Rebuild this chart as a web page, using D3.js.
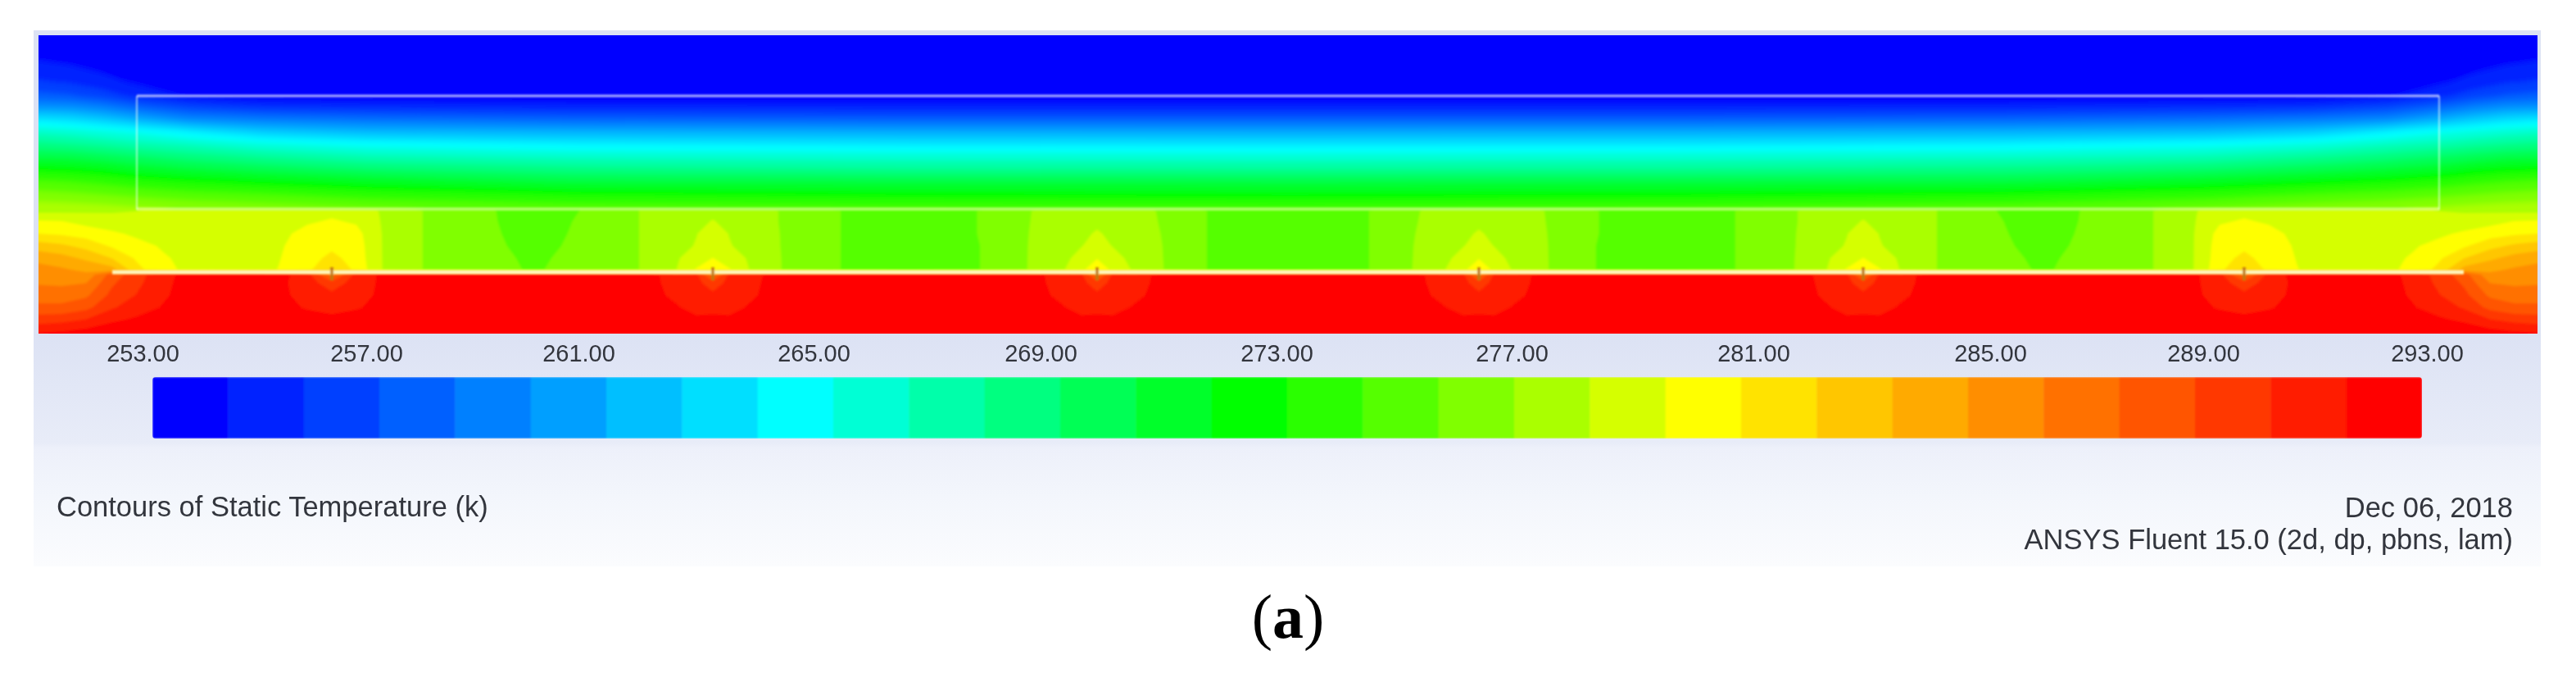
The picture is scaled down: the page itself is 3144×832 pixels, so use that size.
<!DOCTYPE html>
<html>
<head>
<meta charset="utf-8">
<title>Contours of Static Temperature</title>
<script src="https://cdn.jsdelivr.net/npm/d3@7"></script>
<style>
  html, body { margin: 0; background: #fff; }
  svg { display: block; }
  text { font-family: "Liberation Sans", Arial, sans-serif; fill: #33363d; }
</style>
</head>
<body>
<svg width="3144" height="832"></svg>
<script>
// colour bar
const legendTicks = [253, 257, 261, 265, 269, 273, 277, 281, 285, 289, 293];
const bandCount = 30;
const bandIndex = d3.range(bandCount);
// swatch where each pure colour sits on the bar
const paletteBands = [0, 8, 14, 20, 29];
const paletteColors = ['#0000ff', '#00ffff', '#00ff00', '#ffff00', '#ff0000'];
const titleLeft = 'Contours of Static Temperature (k)';
const dateText = 'Dec 06, 2018';
const solverText = 'ANSYS Fluent 15.0 (2d, dp, pbns, lam)';

// heaters on the plate: distance from the centre line
const heaterStops = [-1167, -702, -233, 233, 702, 1167];

// air above the box bottom (temperature in K).
// one list per column, left wall to centre line, the right half is the mirror
const upperX = [1525, 1487, 1447, 1405, 1342, 1252, 1122, 872, 472, 0];
const upperY = [0, 32, 57, 74, 87, 102, 117, 132, 147, 162, 177, 192, 212];
const upperColumns = [
  [253, 254.4, 255.8, 257.5, 259.8, 263.2, 265.9, 268, 270.1, 272.3, 274.3, 275.9, 277.9],
  [253, 254.1, 255.5, 257.2, 259.6, 262.8, 265.6, 267.7, 270, 272.1, 274.1, 275.7, 277.8],
  [253, 253.7, 254.8, 256.4, 258.9, 262, 265.1, 267.3, 269.5, 271.7, 273.7, 275.4, 277.6],
  [253, 253.2, 254.1, 255.3, 257.7, 260.9, 264.6, 266.7, 269, 271, 273.1, 275, 277.3],
  [253, 253, 253.5, 254.1, 256.4, 259.3, 263.5, 266.1, 268.3, 270.4, 272.6, 274.5, 276.9],
  [253, 253, 253, 253.3, 255.6, 258.7, 262, 265.1, 267.5, 269.7, 272, 274.1, 276.5],
  [253, 253, 253, 253.2, 255.3, 258.2, 261.2, 264.3, 266.5, 268.8, 271.2, 273.3, 275.9],
  [253, 253, 253, 253.1, 255, 257.7, 260.9, 263.6, 265.9, 268, 270.2, 272.5, 275.1],
  [253, 253, 253, 253, 254.9, 257.5, 260.7, 263.3, 265.6, 267.6, 270.1, 272.1, 274.7],
  [253, 253, 253, 253, 254.9, 257.5, 260.6, 263.2, 265.5, 267.5, 270, 271.9, 274.5]
];

// gap under the box and the plate below it
const lowerX = [1525, 1497, 1467, 1435, 1405, 1372, 1322, 1272, 1232, 1197, 1167, 1137, 1102, 1052, 982, 922, 862, 792,
  747, 722, 702, 682, 657, 612, 542, 467, 392, 322, 277, 252, 233, 214, 187, 142, 92, 0];
const lowerY = [214, 227, 242, 257, 272, 286, 292, 302, 317, 332, 347, 364];
const lowerColumns = [
  [278, 279.8, 281, 283, 284.6, 285.5, 285.8, 286.2, 287, 288, 289.7, 291.8],
  [278, 279.7, 280.8, 282.6, 284.2, 285.2, 285.6, 286.1, 287, 288, 289.9, 292],
  [278.1, 279.2, 280.4, 281.9, 283.4, 284.7, 285.3, 286.3, 287.4, 288.6, 290.4, 292.4],
  [278.2, 278.8, 279.9, 280.8, 282.3, 284.2, 288.3, 288.8, 289.4, 290.2, 291.4, 292.8],
  [278.3, 278.8, 279.4, 280.1, 280.8, 281.4, 289.8, 290, 290.4, 291, 291.9, 293],
  [278.6, 278.8, 279.1, 279.5, 279.8, 280, 291.3, 291.4, 291.5, 291.8, 292.5, 293],
  [278.8, 278.8, 278.8, 278.9, 279, 279, 292.6, 292.6, 292.7, 292.8, 292.9, 293],
  [278.9, 278.9, 278.9, 278.9, 279, 279.1, 292.8, 292.8, 292.8, 292.8, 293, 293],
  [279, 279.1, 279.3, 279.5, 279.6, 279.7, 292.2, 292, 292, 292.3, 292.8, 293],
  [279.1, 279.5, 280.1, 280.3, 280.4, 280.6, 290.9, 291, 291.2, 291.5, 292.4, 293],
  [279.3, 279.8, 280.3, 280.7, 281.4, 282.6, 287, 289.5, 290.7, 291, 292.2, 293],
  [279.1, 279.5, 280.1, 280.3, 280.4, 280.6, 290.9, 291, 291.2, 291.5, 292.4, 293],
  [278.1, 278.1, 278.1, 278.1, 278.1, 278.1, 292, 292, 292, 292.3, 292.8, 293],
  [276.9, 276.9, 276.9, 276.9, 276.9, 276.9, 292.8, 292.8, 292.8, 292.8, 293, 293],
  [275.9, 275.9, 276, 276.1, 276.2, 276.3, 292.8, 292.8, 292.8, 292.8, 293, 293],
  [275, 275.1, 275.1, 275.2, 275.4, 275.5, 292.8, 292.8, 292.8, 292.8, 293, 293],
  [275.7, 275.8, 275.9, 276, 276.1, 276.2, 292.8, 292.8, 292.8, 292.8, 293, 293],
  [277, 277, 277, 277, 277, 277, 292.5, 292.5, 292.6, 292.7, 293, 293],
  [277.6, 277.7, 277.8, 278, 278.2, 278.3, 291, 291.1, 291.3, 291.85, 292.6, 293],
  [277.9, 278, 278.3, 278.4, 278.9, 279.8, 290.6, 290.8, 291, 291.1, 292, 293],
  [278, 278.4, 278.8, 279, 279.7, 281, 287, 289.5, 290.7, 291, 292.2, 293],
  [277.9, 278, 278.3, 278.4, 278.9, 279.8, 290.6, 290.8, 291, 291.1, 292, 293],
  [277.7, 277.7, 277.9, 278, 278.2, 278.3, 291.2, 291.3, 291.4, 291.85, 292.6, 293],
  [276.8, 276.8, 276.8, 276.8, 276.8, 276.8, 292.5, 292.5, 292.6, 292.7, 293, 293],
  [275.6, 275.6, 275.6, 275.6, 275.6, 275.6, 292.8, 292.8, 292.8, 292.8, 293, 293],
  [275, 275, 275, 275, 275, 275, 292.8, 292.8, 292.8, 292.8, 293, 293],
  [275.4, 275.4, 275.4, 275.3, 275.3, 275.3, 292.8, 292.8, 292.8, 292.8, 293, 293],
  [276.9, 276.9, 276.9, 276.9, 276.9, 276.9, 292.5, 292.5, 292.6, 292.7, 293, 293],
  [277.4, 277.5, 277.7, 277.9, 278, 278.1, 291, 291.1, 291.3, 291.85, 292.6, 293],
  [277.7, 277.8, 278, 278.3, 278.7, 279.4, 290.6, 290.8, 291, 291.1, 292, 293],
  [277.9, 278, 278.5, 278.7, 279.6, 280.6, 287, 289.5, 290.7, 291, 292.2, 293],
  [277.7, 277.8, 278, 278.3, 278.7, 279.4, 290.6, 290.8, 291, 291.1, 292, 293],
  [277.4, 277.5, 277.7, 277.9, 278, 278.1, 291, 291.1, 291.3, 291.85, 292.6, 293],
  [276.7, 276.7, 276.7, 276.7, 276.7, 276.7, 292.5, 292.5, 292.6, 292.7, 293, 293],
  [275.5, 275.5, 275.5, 275.5, 275.5, 275.5, 292.8, 292.8, 292.8, 292.8, 293, 293],
  [275, 275, 275, 275, 275, 275, 292.8, 292.8, 292.8, 292.8, 293, 293]
];

// layout
const plot = { left: 47, right: 3097, top: 43, bottom: 407 };
const bar = { left: 186, right: 2956, top: 460, bottom: 535 };
// the labels of the picture are not evenly spaced along the bar
const legendTickPx = [174, 447, 706, 993, 1270, 1558, 1845, 2140, 2429, 2689, 2962];

const svg = d3.select('svg');
const defs = svg.append('defs');

const panelGradient = defs.append('linearGradient')
  .attr('id', 'panelFill')
  .attr('x1', 0).attr('x2', 0).attr('y1', 0).attr('y2', 1);
panelGradient.selectAll('stop')
  .data([[0.566, '#dce2f4'], [0.77, '#e8ecf8'], [0.778, '#edf0fa'], [0.87, '#f3f6fc'], [1, '#fbfcfe']])
  .enter().append('stop')
  .attr('offset', d => d[0])
  .attr('stop-color', d => d[1]);

defs.append('clipPath').attr('id', 'plotClip').append('rect')
  .attr('x', plot.left).attr('y', plot.top)
  .attr('width', plot.right - plot.left).attr('height', plot.bottom - plot.top);
defs.append('clipPath').attr('id', 'lowerClip').append('rect')
  .attr('x', plot.left - 20).attr('y', 256)
  .attr('width', plot.right - plot.left + 40).attr('height', plot.bottom - 256 + 20);

const softFilter = (id, amount) => defs.append('filter')
  .attr('id', id)
  .attr('x', '-2%').attr('y', '-5%').attr('width', '104%').attr('height', '110%')
  .append('feGaussianBlur').attr('stdDeviation', amount);
softFilter('upperBlur', 3);
softFilter('lowerBlur', 1.8);
softFilter('lineBlur', 0.8);
softFilter('textBlur', 0.55);

// white page area of the solver window
svg.append('rect')
  .attr('x', 41).attr('y', 37).attr('width', 3060).attr('height', 654)
  .attr('fill', 'url(#panelFill)');

const colorScale = d3.scaleLinear().domain(paletteBands).range(paletteColors);

const tempMin = legendTicks[0];
const tempMax = legendTicks[legendTicks.length - 1];
const tempToBand = d3.scaleLinear().domain([tempMin, tempMax]).range([0, bandCount]);
const thresholds = bandIndex.map(i => tempToBand.invert(i));

// field x is the distance from the centre line, left half negative
const fieldX = d3.scaleLinear().domain([-1525, 1525]).range([plot.left, plot.right]);
const fieldY = d3.scaleLinear().domain([0, 364]).range([plot.top, plot.bottom]);

const mirrorColumns = columns => columns.concat(columns.slice(0, -1).reverse());
const mirrorStops = stops => stops.map(d => -d).concat(stops.slice(0, -1).reverse());

const drawField = (selection, stopsX, stopsY, halfColumns) => {
  const columns = mirrorColumns(halfColumns);
  const xs = mirrorStops(stopsX);
  const values = [];
  stopsY.forEach((_, j) => columns.forEach(col => values.push(col[j])));

  // grid node i sits at i + 0.5 in contour coordinates
  const gridToPx = d3.scaleLinear().domain(xs.map((d, i) => i + 0.5)).range(xs.map(fieldX));
  const gridToPy = d3.scaleLinear().domain(stopsY.map((d, i) => i + 0.5)).range(stopsY.map(fieldY));
  const path = d3.geoPath(d3.geoTransform({
    point(x, y) { this.stream.point(gridToPx(x), gridToPy(y)); }
  }));

  const bands = d3.contours().size([columns.length, stopsY.length]).thresholds(thresholds)(values);
  selection.selectAll('path')
    .data(bands)
    .enter().append('path')
    .attr('d', path)
    .attr('fill', (d, i) => colorScale(i));
};

const fieldG = svg.append('g').attr('clip-path', 'url(#plotClip)');
fieldG.append('g').attr('filter', 'url(#upperBlur)').call(drawField, upperX, upperY, upperColumns);
fieldG.append('g').attr('filter', 'url(#lowerBlur)')
  .append('g').attr('clip-path', 'url(#lowerClip)')
  .call(drawField, lowerX, lowerY, lowerColumns);

// box outline
const boxG = svg.append('g').attr('filter', 'url(#lineBlur)').attr('fill', 'none');
boxG.append('line')
  .attr('x1', 167).attr('x2', 2977).attr('y1', 117).attr('y2', 117)
  .attr('stroke', '#d4d8ff').attr('stroke-opacity', 0.8).attr('stroke-width', 3);
boxG.append('line')
  .attr('x1', 167).attr('x2', 2977).attr('y1', 255).attr('y2', 255)
  .attr('stroke', '#ffffc8').attr('stroke-opacity', 0.5).attr('stroke-width', 4);
boxG.selectAll('line.side')
  .data([167, 2977])
  .enter().append('line')
  .attr('class', 'side')
  .attr('x1', d => d).attr('x2', d => d).attr('y1', 117).attr('y2', 256)
  .attr('stroke', '#f4fff4').attr('stroke-opacity', 0.6).attr('stroke-width', 2);

// plate and the slit at each heater
boxG.append('line')
  .attr('x1', 137).attr('x2', 3007).attr('y1', 332).attr('y2', 332)
  .attr('stroke', '#fff6bd').attr('stroke-width', 5);
boxG.selectAll('line.heater')
  .data(heaterStops)
  .enter().append('line')
  .attr('class', 'heater')
  .attr('x1', d => fieldX(d)).attr('x2', d => fieldX(d)).attr('y1', 326).attr('y2', 342)
  .attr('stroke', '#c07a12').attr('stroke-width', 3.5);

// colour bar
const barX = d3.scaleBand().domain(bandIndex).range([bar.left, bar.right]);
defs.append('clipPath').attr('id', 'barClip').append('rect')
  .attr('x', bar.left).attr('y', bar.top)
  .attr('width', bar.right - bar.left).attr('height', bar.bottom - bar.top)
  .attr('rx', 4);
svg.append('g')
  .attr('clip-path', 'url(#barClip)')
  .append('g')
  .attr('filter', 'url(#lineBlur)')
  .selectAll('rect')
  .data(bandIndex)
  .enter().append('rect')
  .attr('x', d => barX(d))
  .attr('y', bar.top)
  .attr('width', barX.bandwidth() + 0.5)
  .attr('height', bar.bottom - bar.top)
  .attr('fill', d => colorScale(d));

// tick labels
const tickX = d3.scaleLinear().domain(legendTicks).range(legendTickPx);
const axisG = svg.append('g')
  .attr('transform', 'translate(0,420)')
  .attr('filter', 'url(#textBlur)')
  .call(d3.axisBottom(tickX)
    .tickValues(legendTicks)
    .tickSize(0)
    .tickPadding(0)
    .tickFormat(d3.format('.2f')));
axisG.select('.domain').remove();
axisG.selectAll('text')
  .attr('font-family', null)
  .style('font-size', '29px')
  .attr('dy', '0.71em');

const notes = svg.append('g').attr('filter', 'url(#textBlur)').style('font-size', '34.5px');
notes.append('text').attr('x', 69).attr('y', 630).text(titleLeft);
notes.append('text').attr('x', 3067).attr('y', 631).attr('text-anchor', 'end').text(dateText);
notes.append('text').attr('x', 3067).attr('y', 670).attr('text-anchor', 'end').text(solverText);

// caption under the figure
const caption = svg.append('text')
  .attr('x', 1572).attr('y', 778)
  .attr('text-anchor', 'middle')
  .style('font-family', '"Liberation Serif", serif')
  .style('font-size', '76px')
  .style('fill', '#000');
caption.append('tspan').text('(');
caption.append('tspan').style('font-weight', 'bold').text('a');
caption.append('tspan').text(')');
</script>
</body>
</html>
